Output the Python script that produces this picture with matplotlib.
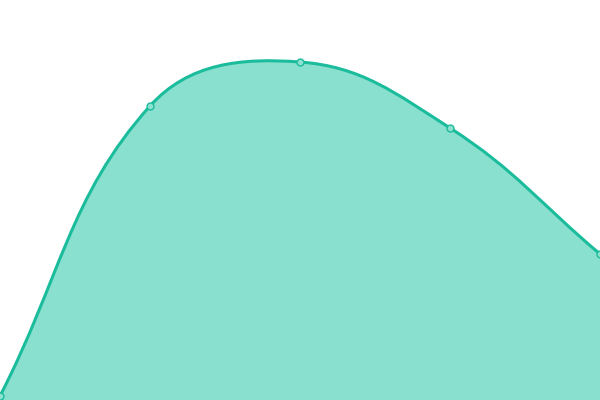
import numpy as np
import matplotlib
matplotlib.use("Agg")
import matplotlib.pyplot as plt
from matplotlib.path import Path
from matplotlib.patches import PathPatch

# data
categories = ["A", "B", "C", "D", "E"]
values = [4, 294, 338, 272, 146]
y_max = 400

line_color = "#1abc9c"
fill_color = "#89e0cf"

W, H = 600, 400
fig = plt.figure(figsize=(W / 100, H / 100), dpi=100)
ax = fig.add_axes([0, 0, 1, 1])
ax.set_xlim(0, len(categories) - 1)
ax.set_ylim(0, y_max)
ax.axis("off")

# work in pixel space for the spline (like chart.js, tension 0.4)
xs = np.arange(len(categories)) * W / (len(categories) - 1)
ys = np.array(values, dtype=float) * H / y_max
pts = np.column_stack([xs, ys])
t = 0.4
n = len(pts)
cp_prev = pts.copy()
cp_next = pts.copy()
for i in range(n):
    p0 = pts[i - 1] if i > 0 else pts[i]
    p1 = pts[i]
    p2 = pts[i + 1] if i < n - 1 else pts[i]
    d01 = np.hypot(*(p1 - p0))
    d12 = np.hypot(*(p2 - p1))
    s01 = d01 / (d01 + d12) if d01 + d12 else 0
    s12 = d12 / (d01 + d12) if d01 + d12 else 0
    cp_prev[i] = p1 - t * s01 * (p2 - p0)
    cp_next[i] = p1 + t * s12 * (p2 - p0)
cp_prev[:, 0] = cp_prev[:, 0].clip(0, W)
cp_next[:, 0] = cp_next[:, 0].clip(0, W)
cp_prev[:, 1] = cp_prev[:, 1].clip(0, H)
cp_next[:, 1] = cp_next[:, 1].clip(0, H)

to_data = np.array([(len(categories) - 1) / W, y_max / H])
verts = [pts[0] * to_data]
codes = [Path.MOVETO]
for i in range(n - 1):
    verts += [cp_next[i] * to_data, cp_prev[i + 1] * to_data, pts[i + 1] * to_data]
    codes += [Path.CURVE4] * 3

curve = Path(verts, codes)
fill_verts = verts + [(len(categories) - 1, 0), (0, 0), verts[0]]
fill_codes = codes + [Path.LINETO, Path.LINETO, Path.CLOSEPOLY]
ax.add_patch(PathPatch(Path(fill_verts, fill_codes), facecolor=fill_color, edgecolor="none"))
ax.add_patch(PathPatch(curve, facecolor="none", edgecolor=line_color, lw=2.2,
                       capstyle="round", joinstyle="round"))

ax.plot(range(len(categories)), values, "o", ms=5, mfc="#8fe0cf",
        mec=line_color, mew=1, clip_on=False, zorder=5)

fig.savefig("out.png", dpi=100)
